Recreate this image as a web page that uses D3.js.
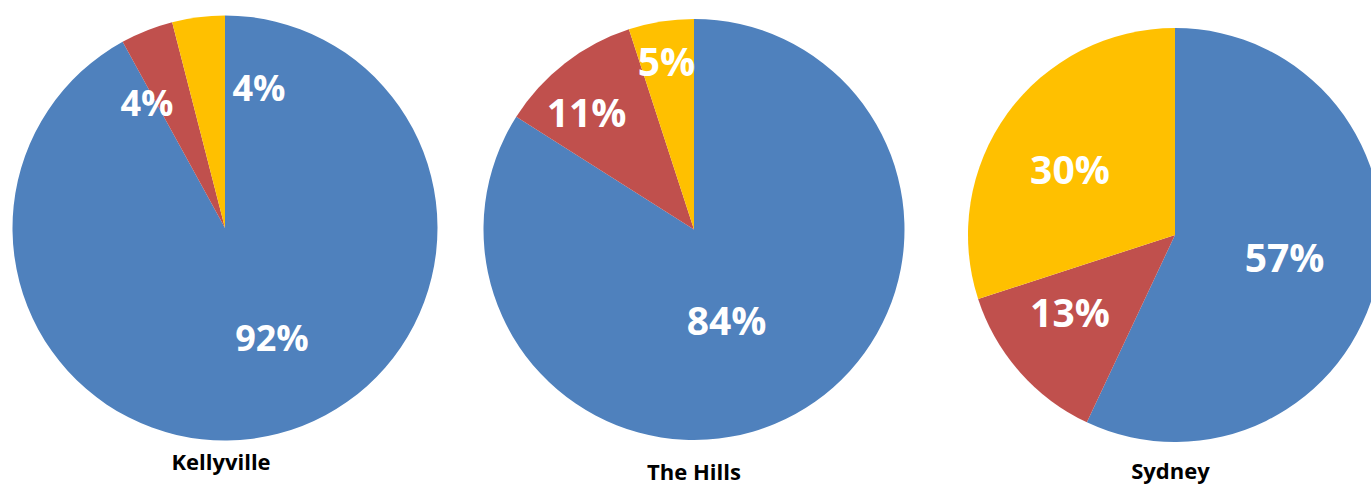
<!DOCTYPE html>
<html>
<head>
<meta charset="utf-8">
<script src="https://cdn.jsdelivr.net/npm/d3@7"></script>
<style>
  html, body { margin: 0; padding: 0; background: #ffffff; }
  svg { display: block; }
</style>
</head>
<body>
<svg id="chart" width="1371" height="485"></svg>
<script>
// ---- data ----
const regions = ["Kellyville", "The Hills", "Sydney"];
const kellyvilleValues = [92, 4, 4];
const theHillsValues = [84, 11, 5];
const sydneyValues = [57, 13, 30];
const seriesValues = [kellyvilleValues, theHillsValues, sydneyValues];

// ---- layout / style ----
const sliceColors = ["#4F81BD", "#C0504D", "#FFC000"];
// labelR: label distance as a fraction of radius; labelShift: angular nudge (deg) from slice mid-angle
const layout = [
  { cx: 225, cy: 228, r: 212.5, labelSize: 36, titleX: 221, titleY: 470,
    labelR: [0.563, 0.691, 0.678], labelShift: [-8.7, -10.5, 20.8] },
  { cx: 694, cy: 229.5, r: 210.5, labelSize: 39, titleX: 694, titleY: 480,
    labelR: [0.465, 0.753, 0.804], labelShift: [9.4, -4.9, -0.4] },
  { cx: 1175, cy: 235, r: 207, labelSize: 39, titleX: 1170.5, titleY: 479,
    labelR: [0.541, 0.632, 0.597], labelShift: [-0.8, 4.8, -4.2] }
];

const svg = d3.select("#chart");
const pie = d3.pie().sort(null).value(d => d);
const color = d3.scaleOrdinal().domain(d3.range(sliceColors.length)).range(sliceColors);

regions.forEach((name, p) => {
  const L = layout[p];
  const vals = seriesValues[p];
  const arcs = pie(vals);
  const arc = d3.arc().innerRadius(0).outerRadius(L.r);
  const g = svg.append("g").attr("transform", `translate(${L.cx},${L.cy})`);

  g.selectAll("path.slice")
    .data(arcs)
    .join("path")
    .attr("class", "slice")
    .attr("d", arc)
    .attr("fill", (d, i) => color(i));

  const labelArc = (d, i) => {
    const a = (d.startAngle + d.endAngle) / 2 + L.labelShift[i] * Math.PI / 180;
    const rr = L.labelR[i] * L.r;
    return [Math.sin(a) * rr, -Math.cos(a) * rr];
  };

  g.selectAll("text.pct")
    .data(arcs)
    .join("text")
    .attr("class", "pct")
    .attr("transform", (d, i) => `translate(${labelArc(d, i)})`)
    .attr("text-anchor", "middle")
    .attr("dy", "0.35em")
    .attr("font-family", "'Open Sans', sans-serif")
    .attr("font-weight", 700)
    .attr("font-size", L.labelSize)
    .attr("fill", "#ffffff")
    .text(d => d.data + "%");

  svg.append("text")
    .attr("x", L.titleX)
    .attr("y", L.titleY)
    .attr("text-anchor", "middle")
    .attr("font-family", "'Open Sans', sans-serif")
    .attr("font-weight", 700)
    .attr("font-size", 22)
    .attr("fill", "#000000")
    .text(name);
});
</script>
</body>
</html>
